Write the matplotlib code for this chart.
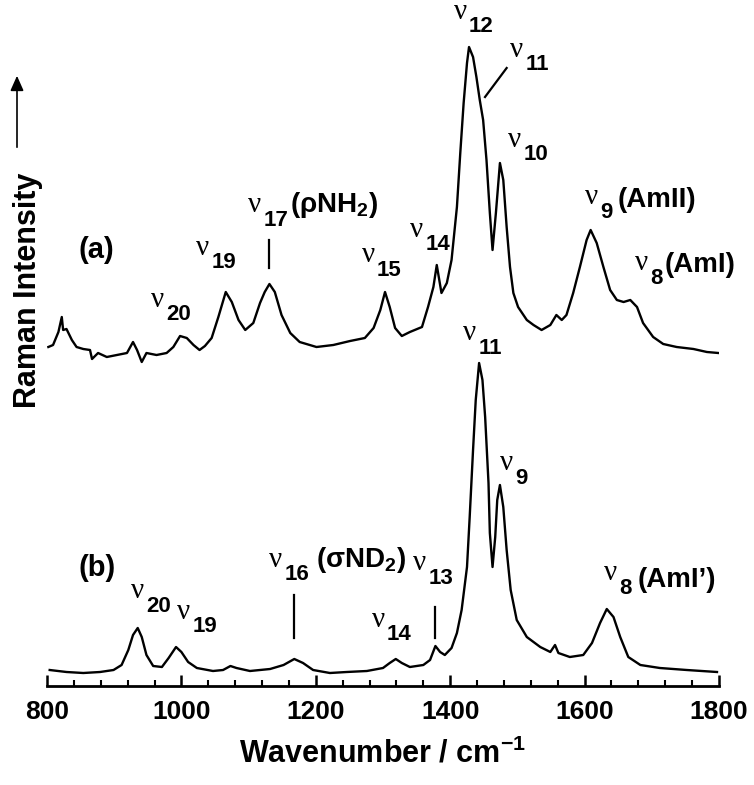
import matplotlib
matplotlib.use('Agg')
import matplotlib.pyplot as plt
from matplotlib.patches import FancyArrowPatch

# ---------------- data (wavenumber / cm-1, intensity in arbitrary units, trace (a) offset) -------------
wn_a = [802, 809, 817, 822, 824, 829, 837, 844, 854, 864, 867, 876, 889, 904, 919, 928, 934, 941, 948,
        963, 978, 988, 998, 1008, 1018, 1027, 1035, 1045, 1055, 1066, 1075, 1085, 1095, 1107, 1117,
        1124, 1131, 1139, 1149, 1162, 1176, 1201, 1226, 1251, 1273, 1286, 1296, 1303, 1310, 1318,
        1328, 1340, 1358, 1367, 1375, 1380, 1387, 1395, 1402, 1410, 1415, 1420, 1425, 1428, 1434,
        1439, 1444, 1449, 1454, 1459, 1463, 1468, 1474, 1479, 1484, 1489, 1494, 1501, 1514, 1524,
        1536, 1549, 1558, 1566, 1573, 1583, 1593, 1603, 1609, 1618, 1628, 1638, 1648, 1658, 1668,
        1678, 1687, 1702, 1717, 1737, 1762, 1782, 1799]
int_a = [353, 355, 368, 383, 370, 371, 360, 353, 351, 350, 341, 347, 343, 345, 347, 358, 350, 338, 347,
         345, 347, 353, 364, 362, 355, 350, 354, 362, 383, 408, 398, 380, 370, 377, 397,
         408, 416, 408, 385, 367, 358, 353, 355, 359, 362, 372, 390, 408, 393, 372,
         364, 368, 373, 393, 413, 435, 407, 417, 440, 493, 547, 597, 637, 653, 643,
         623, 600, 580, 540, 487, 450, 487, 537, 520, 473, 433, 407, 393, 380, 375,
         370, 375, 385, 380, 385, 407, 433, 460, 470, 457, 433, 410, 400, 398, 400,
         393, 377, 363, 356, 353, 351, 348, 347]

wn_b = [804, 829, 854, 879, 899, 911, 921, 928, 935, 941, 948, 958, 971, 981, 992, 1000, 1010, 1023,
        1047, 1062, 1073, 1082, 1102, 1132, 1152, 1168, 1181, 1196, 1221, 1246, 1276, 1300, 1310,
        1319, 1328, 1340, 1360, 1370, 1378, 1385, 1392, 1402, 1410, 1417, 1425, 1429, 1434, 1438,
        1443, 1448, 1452, 1457, 1459, 1463, 1467, 1470, 1474, 1479, 1484, 1490, 1499, 1514, 1534,
        1549, 1556, 1561, 1578, 1598, 1611, 1623, 1633, 1643, 1653, 1665, 1683, 1712, 1752, 1797]
int_b = [30, 28, 27, 28, 30, 35, 50, 65, 72, 63, 45, 34, 33, 42, 53, 48, 38, 32,
         29, 30, 34, 32, 29, 31, 35, 41, 37, 30, 27, 28, 29, 32, 37,
         41, 37, 33, 35, 40, 54, 48, 45, 52, 67, 90, 133, 183, 250, 300,
         337, 320, 283, 217, 167, 133, 163, 200, 215, 193, 150, 110, 80, 63, 53,
         48, 55, 47, 43, 45, 57, 77, 91, 83, 63, 43, 35, 32, 30, 28]

x_ticks = [800, 1000, 1200, 1400, 1600, 1800]

# peak labels: (subscript, x, y of the nu glyph, extra text, extra dx px, extra dy px)
labels = [
    ('20', 963.7, 400, None, 0, 0),
    ('19', 1032, 452, None, 0, 0),
    ('17', 1109.5, 495, r'(ρNH$_2$)', 35, 0),
    ('15', 1277.7, 445, None, 0, 0),
    ('14', 1350, 470, None, 0, 0),
    ('12', 1414.6, 688, None, 0, 0),
    ('11', 1499, 650, None, 0, 0),
    ('10', 1496.4, 560, None, 0, 0),
    ('9', 1610.6, 503, '(AmII)', 26, 3),
    ('8', 1685, 437, '(AmI)', 23, 2),
    ('20', 934, 109, None, 0, 0),
    ('19', 1003, 88, None, 0, 0),
    ('16', 1140, 140, r'(σND$_2$)', 41, 0),
    ('13', 1355, 137, None, 0, 0),
    ('14', 1292.6, 80, None, 0, 0),
    ('11', 1429, 367, None, 0, 0),
    ('9', 1484, 237, None, 0, 0),
    ('8', 1638, 127, "(AmI’)", 27, 7),
]
# marker lines (x0, y0, x1, y1)
marks = [
    (1130, 460, 1130, 432),
    (1484, 632, 1451.8, 603),
    (1167.6, 105, 1167.6, 62),
    (1377.4, 93, 1377.4, 62),
]
panel_tags = [('(a)', 874, 450), ('(b)', 874, 132)]

# ---------------- styling ----------------
SANS = 'Liberation Sans'
SERIF = 'Liberation Serif'
plt.rcParams['font.family'] = [SANS, 'DejaVu Sans']
plt.rcParams['mathtext.fontset'] = 'custom'
plt.rcParams['mathtext.rm'] = SANS + ':bold'
plt.rcParams['mathtext.bf'] = SANS + ':bold'
plt.rcParams['mathtext.it'] = SANS + ':bold'
plt.rcParams['mathtext.default'] = 'bf'

fig = plt.figure(figsize=(7.54, 7.85), dpi=100)
ax = fig.add_axes([47 / 754, 1 - 686 / 785, 672 / 754, 686 / 785])
ax.plot(wn_a, int_a, color='black', lw=1.7, solid_joinstyle='round')
ax.plot(wn_b, int_b, color='black', lw=1.7, solid_joinstyle='round')
ax.set_xlim(800, 1800)
ax.set_ylim(14, 700)
for s in ['left', 'right', 'top']:
    ax.spines[s].set_visible(False)
ax.spines['bottom'].set_linewidth(2)
ax.set_yticks([])
ax.set_xticks(x_ticks)
ax.set_xticks(list(range(800, 1801, 40)), minor=True)
ax.tick_params(axis='x', which='major', direction='in', length=8, width=1.8, labelsize=19, pad=10)
ax.tick_params(axis='x', which='minor', direction='in', length=4, width=1.5)
for lab in ax.get_xticklabels():
    lab.set_fontweight('bold')
ax.set_xlabel(r'Wavenumber / cm$^{-1}$', fontsize=22, fontweight='bold', labelpad=10)

PX = 0.72  # points per pixel
for sub, x, y, extra, edx, edy in labels:
    ax.text(x, y, 'ν', fontsize=21, family=SERIF, ha='center', va='center', clip_on=False)
    ax.annotate(sub, (x, y), xytext=(9 * PX, -15 * PX), textcoords='offset points',
                fontsize=16, fontweight='bold', ha='left', va='center', annotation_clip=False)
    if extra:
        ax.annotate(extra, (x, y), xytext=(edx * PX, -edy * PX), textcoords='offset points',
                    fontsize=20, fontweight='bold', ha='left', va='center', annotation_clip=False)
for x0, y0, x1, y1 in marks:
    ax.plot([x0, x1], [y0, y1], color='black', lw=1.6, clip_on=False)
for t, x, y in panel_tags:
    ax.text(x, y, t, fontsize=21, fontweight='bold', ha='center', va='center')

# y label with arrow
fig.text(28 / 754, 1 - 290 / 785, 'Raman Intensity', rotation=90, fontsize=22, fontweight='bold',
         ha='center', va='center')
fig.add_artist(FancyArrowPatch((17 / 754, 1 - 150 / 785), (17 / 754, 1 - 73 / 785),
               transform=fig.transFigure, arrowstyle='-|>,head_length=9,head_width=4',
               color='black', lw=1.2, mutation_scale=1))

fig.savefig('out.png', dpi=100)
